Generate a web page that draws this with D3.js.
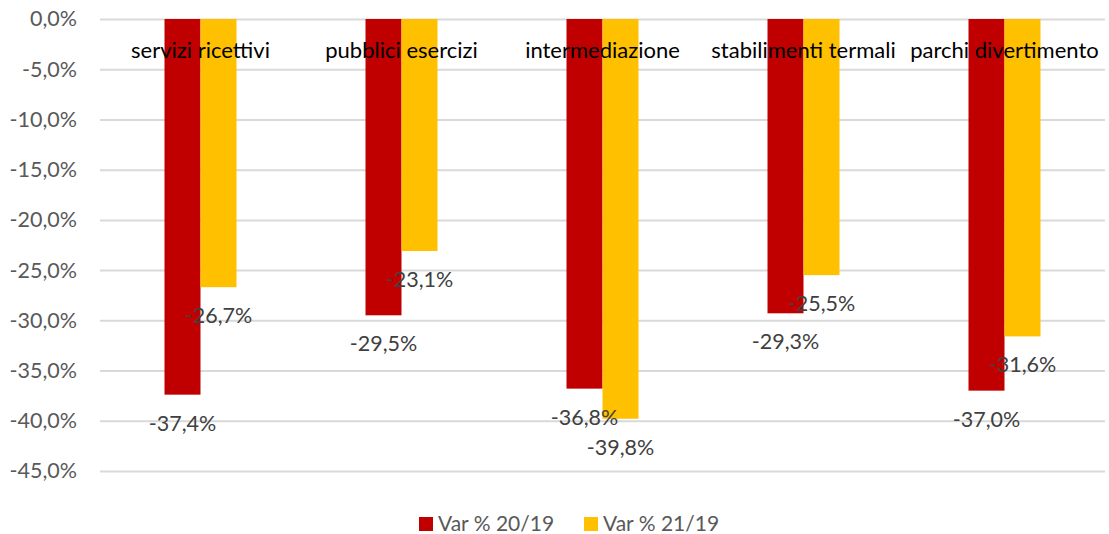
<!DOCTYPE html>
<html>
<head>
<meta charset="utf-8">
<script src="https://cdn.jsdelivr.net/npm/d3@7"></script>
<style>
	body { margin: 0; background: #fff; }
	svg text { font-family: Lato, "Open Sans", sans-serif; }
</style>
</head>
<body>
<div id="chart"></div>
<script>
const categories = ["servizi ricettivi", "pubblici esercizi", "intermediazione", "stabilimenti termali", "parchi divertimento"],
	seriesNames = ["Var % 20/19", "Var % 21/19"],
	var2019 = [-37.4, -29.5, -36.8, -29.3, -37.0],
	var2119 = [-26.7, -23.1, -39.8, -25.5, -31.6],
	yTicks = [0, -5, -10, -15, -20, -25, -30, -35, -40, -45],
	colors = ["#C00000", "#FFC000"];

const fmt = v => d3.format(".1f")(v).replace("−", "-").replace(".", ",") + "%";

var W = 1109, H = 534,
	margin = {top: 19, right: 4, bottom: 63, left: 100},
	width = W - margin.left - margin.right,
	height = H - margin.top - margin.bottom;

var svg = d3.select("#chart").append("svg")
	.attr("width", W)
	.attr("height", H);

var chart = svg.append("g")
	.attr("transform", "translate(" + margin.left + "," + margin.top + ")");

var y = d3.scaleLinear().domain([0, -45]).range([0, height]);

var x = d3.scaleBand().domain(categories).range([0, width]).paddingInner(0).paddingOuter(0);

// inner scale for the two series inside a category
var xs = d3.scaleBand().domain([0, 1]).range([x.bandwidth() / 2 - 36, x.bandwidth() / 2 + 36]);

// gridlines + tick labels
var yAxis = d3.axisLeft(y).tickValues(yTicks).tickSizeInner(-width).tickSizeOuter(0).tickPadding(23).tickFormat(fmt);
var gy = chart.append("g").call(yAxis);
gy.select(".domain").remove();
gy.selectAll("line").attr("stroke", "#D9D9D9").attr("stroke-width", 2);
gy.selectAll("text").attr("fill", "#595959").style("font-size", "21.5px");

var rows = categories.map((c, i) => ({cat: c, vals: [var2019[i], var2119[i]]}));

var groups = chart.selectAll(".cat")
	.data(rows)
	.enter().append("g")
	.attr("class", "cat")
	.attr("transform", d => "translate(" + x(d.cat) + ",0)");

groups.selectAll("rect")
	.data(d => d.vals.map((v, k) => ({v, k})))
	.enter().append("rect")
	.attr("x", d => xs(d.k))
	.attr("width", xs.bandwidth())
	.attr("y", y(0))
	.attr("height", d => y(d.v) - y(0))
	.attr("fill", d => colors[d.k]);

// category labels, drawn at the zero line, over the bars
chart.selectAll(".catlabel")
	.data(categories)
	.enter().append("text")
	.attr("class", "catlabel")
	.attr("x", d => x(d) + x.bandwidth() / 2)
	.attr("y", y(0) + 39)
	.attr("text-anchor", "middle")
	.attr("fill", "#000")
	.style("font-size", "22px")
	.text(d => d);

// data labels below the bar ends
groups.selectAll(".dl")
	.data(d => d.vals.map((v, k) => ({v, k})))
	.enter().append("text")
	.attr("class", "dl")
	.attr("x", d => xs(d.k) + xs.bandwidth() / 2)
	.attr("y", d => y(d.v) + 36)
	.attr("text-anchor", "middle")
	.attr("fill", "#404040")
	.style("font-size", "21.5px")
	.text(d => fmt(d.v));

// legend
var legend = svg.append("g").attr("transform", "translate(419,517)");
var li = legend.selectAll("g")
	.data(seriesNames)
	.enter().append("g")
	.attr("transform", (d, i) => "translate(" + (i * 165) + ",0)");
li.append("rect").attr("width", 14).attr("height", 14).attr("fill", (d, i) => colors[i]);
li.append("text")
	.attr("x", 19)
	.attr("y", 14)
	.attr("fill", "#595959")
	.style("font-size", "21px")
	.text(d => d);
</script>
</body>
</html>
